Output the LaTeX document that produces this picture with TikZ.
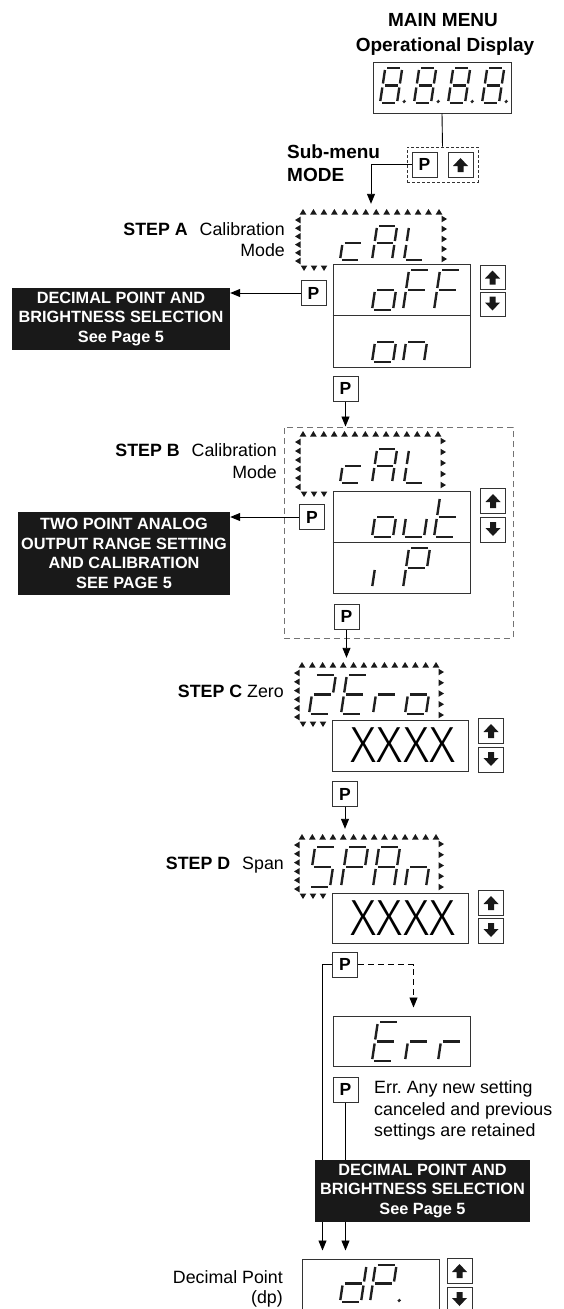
\documentclass[tikz,border=0pt]{standalone}
\usepackage{fontspec}
\setmainfont{Liberation Sans}
\IfFontExistsTF{Fira Sans Light}{\newfontfamily\xfont{Fira Sans Light}}{\newfontfamily\xfont{Liberation Sans}}
\usetikzlibrary{arrows.meta,calc}
\frenchspacing

\tikzset{
  lbl/.style={font=\fontsize{17.8}{21}\selectfont, inner sep=0pt},
  head/.style={font=\fontsize{19}{22}\selectfont\bfseries, inner sep=0pt},
  disp/.style={draw=black!80, line width=1pt, inner sep=0pt},
  dline/.style={draw=black!80, line width=1pt},
  pbtn/.style={draw=black!80, line width=1pt, minimum width=25pt, minimum height=25pt, inner sep=0pt, font=\fontsize{17.5}{17.5}\selectfont\bfseries},
  abtn/.style={draw=black!80, line width=1pt, minimum width=25pt, minimum height=24pt, inner sep=0pt},
  blk/.style={fill=black!90, text=white, font=\fontsize{16.3}{19.5}\selectfont\bfseries, align=center, inner sep=0pt},
  arr/.style={-{Triangle[width=8pt,length=10pt]}, line width=0.9pt},
  conn/.style={line width=0.9pt},
  segline/.style={line width=2.4pt, draw=black!88},
  tri/.style={fill=black!90},
  frame/.style={minimum width=150pt, minimum height=66pt, inner sep=0pt},
  xxxx/.style={font=\xfont\fontsize{50.8}{50.8}\selectfont, inner sep=0pt},
}

\def\segG{2}
\def\segDot{7}
\def\Sega{\draw[segline] (\segG,-\segH) -- (\segW-\segG,-\segH);}
\def\Segb{\draw[segline] (\segW,-\segH+\segG) -- (\segW,-\segH/2-\segG);}
\def\Segc{\draw[segline] (\segW,-\segH/2+\segG) -- (\segW,-\segG);}
\def\Segd{\draw[segline] (\segG,0) -- (\segW-\segG,0);}
\def\Sege{\draw[segline] (0,-\segH/2+\segG) -- (0,-\segG);}
\def\Segf{\draw[segline] (0,-\segH+\segG) -- (0,-\segH/2-\segG);}
\def\Segg{\draw[segline] (\segG,-\segH/2) -- (\segW-\segG,-\segH/2);}
\def\Segp{\fill[black!85] (\segW+\segDot,-1.5) circle (1.8pt);}
\newcommand\sevseg[5]{%
  \begin{scope}[shift={(#1,#2)}, xslant=0.15]
    \def\segW{#3}\def\segH{#4}%
    \foreach \s in {#5}{\csname Seg\s\endcsname}%
  \end{scope}}

\newcommand\triframe[4]{%
  \foreach \i in {0,...,13}{%
    \pgfmathsetmacro\tx{#1+5+\i*(#3-#1-10)/13}%
    \fill[tri] (\tx-3.3,#2+2.5) -- (\tx+3.3,#2+2.5) -- (\tx,#2-3) -- cycle;}%
  \foreach \i in {0,...,5}{%
    \pgfmathsetmacro\ty{#2+8+\i*(#4-#2-15)/5}%
    \fill[tri] (#1+2.5,\ty-3.3) -- (#1+2.5,\ty+3.3) -- (#1-3,\ty) -- cycle;}%
  \foreach \i in {0,...,4}{%
    \pgfmathsetmacro\ty{#2+7+\i*(#4-#2-16)/4}%
    \fill[tri] (#3-2.5,\ty-3.3) -- (#3-2.5,\ty+3.3) -- (#3+3,\ty) -- cycle;}%
  \foreach \i in {0,1,2}{%
    \pgfmathsetmacro\tx{#1+6+\i*10}%
    \fill[tri] (\tx-3.3,#4-2.5) -- (\tx+3.3,#4-2.5) -- (\tx,#4+3) -- cycle;}%
}

\newcommand\uparr[1]{\fill[black!90] ([yshift=6.5pt]#1.center) -- ++(7.5,8) -- ++(-4.5,0) -- ++(0,6) -- ++(-6,0) -- ++(0,-6) -- ++(-4.5,0) -- cycle;}
\newcommand\dnarr[1]{\fill[black!90] ([yshift=-6.5pt]#1.center) -- ++(7.5,-8) -- ++(-4.5,0) -- ++(0,-6) -- ++(-6,0) -- ++(0,6) -- ++(-4.5,0) -- cycle;}

\begin{document}
\begin{tikzpicture}[x=1pt,y=-1pt]
\useasboundingbox (0,0) rectangle (564,1309);

% ---------- main menu ----------
\node[head, anchor=base] (mm) at (443,26.5) {MAIN MENU};
\node[head, anchor=base] (od) at (445,51.5) {Operational Display};
\node[disp, minimum width=138pt, minimum height=51pt] (mainD) at (442,87.5) {};
\foreach \dx in {380,414,448,482}{\sevseg{\dx}{103}{17}{35}{a,b,c,d,e,f,g,p}}
\node[draw=black!80, dash pattern=on 3pt off 2pt, line width=0.9pt, minimum width=71pt, minimum height=35pt, inner sep=0pt] (subB) at (442.5,164.5) {};
\node[pbtn] (pMain) at (424.5,164.5) {P};
\node[abtn, minimum height=25pt] (upMain) at (460.5,164.5) {};
\uparr{upMain}
\draw[conn] (mainD.south) -- (subB.north);
\node[head, anchor=base west] (sm) at (287,158) {Sub-menu};
\node[head, anchor=base west] (smode) at (287,181.5) {MODE};

% ---------- step A ----------
\node[frame] (frA) at (371,237) {};
\draw[arr] (pMain.west) -| (frA.north);
\triframe{298}{212}{444}{268}
\sevseg{340}{260}{20}{34}{d,e,g}
\sevseg{372}{260}{20}{34}{a,b,c,e,f,g}
\sevseg{404}{260}{20}{34}{d,e,f}
\node[disp, minimum width=137pt, minimum height=103pt] (valA) at (401.5,315.5) {};
\draw[dline] (valA.west) -- (valA.east);
\sevseg{372}{310}{21}{40}{c,d,e,g}
\sevseg{403}{310}{21}{40}{a,e,f,g}
\sevseg{434}{310}{21}{40}{a,e,f,g}
\sevseg{372}{362}{21}{40}{c,d,e,g}
\sevseg{403}{362}{21}{40}{c,e,g}
\node[abtn] (upA) at (492.5,277) {}; \uparr{upA}
\node[abtn] (dnA) at (492.5,304) {}; \dnarr{dnA}
\node[pbtn] (pA) at (313.5,293) {P};
\node[blk, minimum width=218pt, minimum height=62pt] (boxA) at (121,319) {DECIMAL POINT AND\\BRIGHTNESS SELECTION\\See Page 5};
\draw[arr] (pA.west) -- (pA.west -| boxA.east);
\node[lbl, anchor=base east] (stA) at (285,235) {\textbf{STEP A}\hspace{12pt}Calibration};
\node[lbl, anchor=base east] (stA2) at (285,256.7) {Mode};
\node[pbtn] (pA2) at (345.5,388.5) {P};

% ---------- step B ----------
\node[draw=black!55, dash pattern=on 6pt off 4pt, line width=1pt, minimum width=229pt, minimum height=211pt, inner sep=0pt] (dashB) at (398.5,532.5) {};
\draw[arr] (pA2.south) -- (pA2.south |- dashB.north);
\triframe{298}{434}{443}{494}
\sevseg{340}{483}{20}{34}{d,e,g}
\sevseg{372}{483}{20}{34}{a,b,c,e,f,g}
\sevseg{404}{483}{20}{34}{d,e,f}
\node[disp, minimum width=137pt, minimum height=102pt] (valB) at (401.5,542) {};
\draw[dline] (valB.west) -- (valB.east);
\sevseg{372}{537}{21}{40}{c,d,e,g}
\sevseg{403}{537}{21}{40}{c,d,e}
\sevseg{434}{537}{21}{40}{d,e,f,g}
\sevseg{372}{588}{21}{40}{e}
\sevseg{403}{588}{21}{40}{a,b,e,f,g}
\node[abtn, minimum height=25pt] (upB) at (493,500.5) {}; \uparr{upB}
\node[abtn, minimum height=25pt] (dnB) at (493,529.5) {}; \dnarr{dnB}
\node[pbtn] (pB) at (312,517) {P};
\node[blk, minimum width=212pt, minimum height=83pt] (boxB) at (124,553.5) {TWO POINT ANALOG\\OUTPUT RANGE SETTING\\AND CALIBRATION\\SEE PAGE 5};
\draw[arr] (pB.west) -- (pB.west -| boxB.east);
\node[lbl, anchor=base east] (stB) at (277,456.7) {\textbf{STEP B}\hspace{12pt}Calibration};
\node[lbl, anchor=base east] (stB2) at (277,478.3) {Mode};
\node[pbtn] (pB2) at (346.5,616.5) {P};

% ---------- step C ----------
\node[frame] (frC) at (369,691) {};
\draw[arr] (pB2.south) -- (pB2.south |- frC.north);
\triframe{297}{665}{441}{724}
\sevseg{309}{714}{21}{39}{a,b,g,e,d}
\sevseg{341}{714}{21}{39}{a,d,e,f,g}
\sevseg{373}{714}{21}{39}{e,g}
\sevseg{405}{714}{21}{39}{c,d,e,g}
\node[disp, minimum width=136pt, minimum height=51pt] (valC) at (400,745.5) {};
\node[xxxx] (xC) at (403,745.5) {XXXX};
\node[abtn, minimum height=25pt] (upC) at (491,730.5) {}; \uparr{upC}
\node[abtn, minimum height=25pt] (dnC) at (491,759.5) {}; \dnarr{dnC}
\node[lbl, anchor=base east] (stC) at (284,697.3) {\textbf{STEP C} Zero};
\node[pbtn] (pC) at (345,794) {P};

% ---------- step D ----------
\node[frame] (frD) at (369,862) {};
\draw[arr] (pC.south) -- (pC.south |- frD.north);
\triframe{297}{837}{441}{896}
\sevseg{309}{887}{21}{40}{a,f,g,c,d}
\sevseg{341}{887}{21}{40}{a,b,e,f,g}
\sevseg{373}{887}{21}{40}{a,b,c,e,f,g}
\sevseg{405}{887}{21}{40}{c,e,g}
\node[disp, minimum width=136pt, minimum height=50pt] (valD) at (400,918) {};
\node[xxxx] (xD) at (403,918) {XXXX};
\node[abtn, minimum height=25pt] (upD) at (491,902.5) {}; \uparr{upD}
\node[abtn, minimum height=25pt] (dnD) at (491,930.5) {}; \dnarr{dnD}
\node[lbl, anchor=base east] (stD) at (284,869.3) {\textbf{STEP D}\hspace{12pt}Span};
\node[pbtn] (pD) at (345,964.5) {P};

% ---------- error ----------
\node[disp, minimum width=137pt, minimum height=50pt] (errB) at (401.5,1041) {};
\sevseg{372}{1061}{21}{39}{a,d,e,f,g}
\sevseg{405}{1061}{21}{39}{e,g}
\sevseg{438}{1061}{21}{39}{e,g}
\draw[arr, dash pattern=on 6pt off 4pt] (pD.east) -| ([xshift=81pt, yshift=8pt]errB.north west);
\node[pbtn] (pE) at (345.5,1089.5) {P};
\node[lbl, anchor=base west] (e1) at (374,1093.3) {Err. Any new setting};
\node[lbl, anchor=base west] (e2) at (374,1115) {canceled and previous};
\node[lbl, anchor=base west] (e3) at (374,1136.7) {settings are retained};

% ---------- decimal point ----------
\node[disp, minimum width=137pt, minimum height=51pt] (dpB) at (370.5,1284.5) {};
\draw[arr, shorten >=8pt] (pD.west) -| ([xshift=21pt]dpB.north west);
\draw[arr, shorten >=8pt] (pE.south) -- (pE.south |- dpB.north);
\node[blk, minimum width=215pt, minimum height=62pt] (boxC) at (422.5,1191) {DECIMAL POINT AND\\BRIGHTNESS SELECTION\\See Page 5};
\sevseg{340}{1302}{21}{37}{b,c,d,e,g}
{\def\segDot{8}\sevseg{370}{1302}{21}{37}{a,b,e,f,g,p}}
\node[abtn, minimum height=25pt] (upE) at (459.5,1270.5) {}; \uparr{upE}
\node[abtn, minimum height=25pt] (dnE) at (459.5,1299.5) {}; \dnarr{dnE}
\node[lbl, anchor=base east] (dpl1) at (283,1283.3) {Decimal Point};
\node[lbl, anchor=base east] (dpl2) at (283,1303) {(dp)};
\end{tikzpicture}
\end{document}
